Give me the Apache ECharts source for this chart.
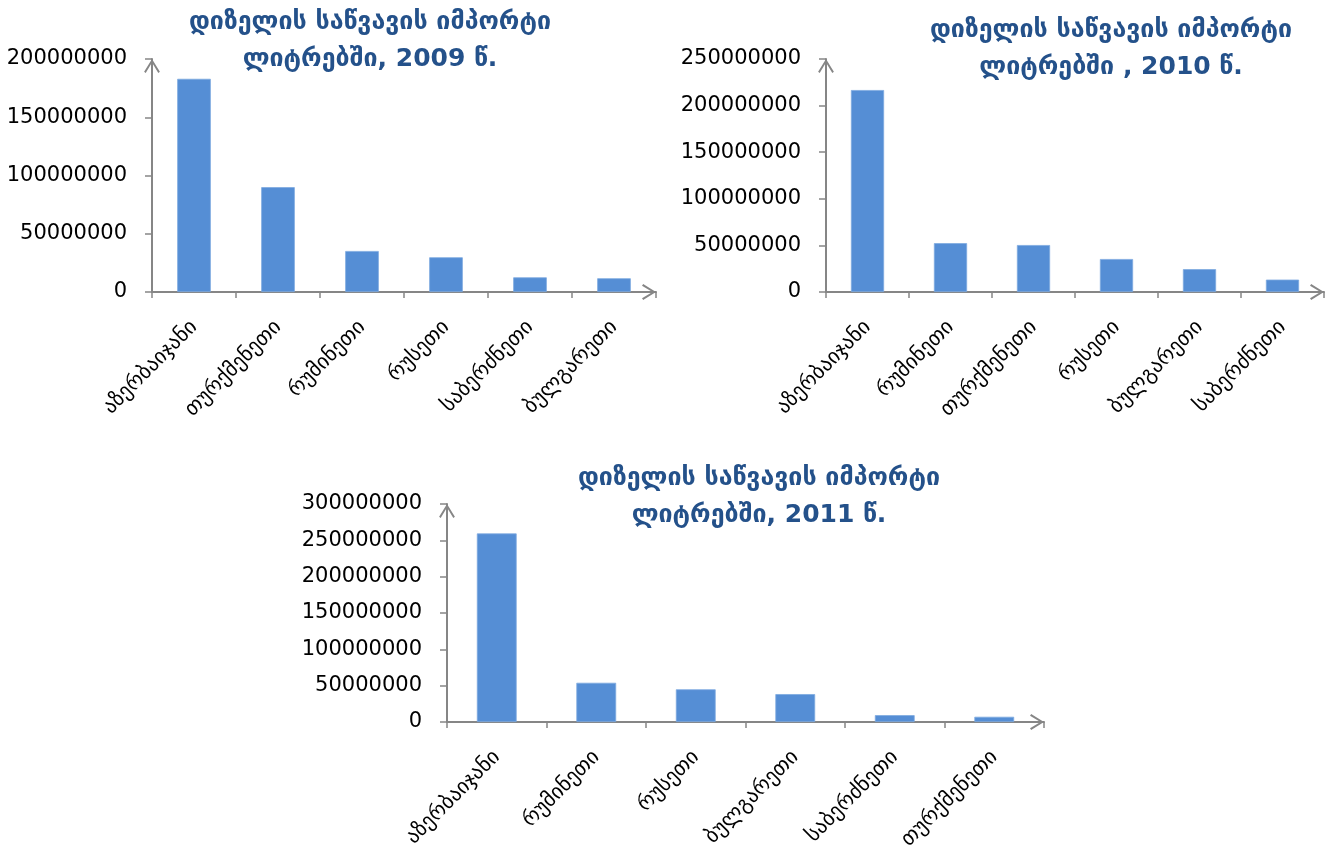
<!DOCTYPE html>
<html><head><meta charset="utf-8">
<script src="https://cdn.jsdelivr.net/npm/echarts@6/dist/echarts.min.js"></script>
<style>html,body{margin:0;padding:0;background:#fff}#c{width:1339px;height:855px}</style>
</head><body><div id="c"></div>
<script>
const titles = ['დიზელის საწვავის იმპორტი\nლიტრებში, 2009 წ.', 'დიზელის საწვავის იმპორტი\nლიტრებში , 2010 წ.', 'დიზელის საწვავის იმპორტი\nლიტრებში, 2011 წ.'];
const cats2009 = ['აზერბაიჯანი', 'თურქმენეთი', 'რუმინეთი', 'რუსეთი', 'საბერძნეთი', 'ბულგარეთი'];
const vals2009 = [183000000, 90000000, 35200000, 29800000, 12600000, 11800000];
const cats2010 = ['აზერბაიჯანი', 'რუმინეთი', 'თურქმენეთი', 'რუსეთი', 'ბულგარეთი', 'საბერძნეთი'];
const vals2010 = [216700000, 52400000, 50400000, 35400000, 24500000, 13300000];
const cats2011 = ['აზერბაიჯანი', 'რუმინეთი', 'რუსეთი', 'ბულგარეთი', 'საბერძნეთი', 'თურქმენეთი'];
const vals2011 = [259500000, 54000000, 45000000, 38400000, 9400000, 7200000];
const yMax = [200000000, 250000000, 300000000];
const yInterval = 50000000;

const FONT = '"DejaVu Sans", sans-serif';
const AX = '#868686';
const BAR = '#558ED5';
const ARROW = 'path://M0,13 L8,0 L16,13 L14.4,14.2 L8,3.6 L1.6,14.2 Z';

const grids = [
  {left: 152, top: 59, width: 504, height: 233},
  {left: 826, top: 59, width: 498, height: 233},
  {left: 447, top: 504, width: 597, height: 218}
];
const titlePos = [{x: 365, y: -1}, {x: 1106, y: 7}, {x: 754, y: 455}];
const catsAll = [cats2009, cats2010, cats2011];
const valsAll = [vals2009, vals2010, vals2011];

const axisLine = {show: true, symbol: ['none', ARROW], symbolSize: [16, 14], symbolOffset: [0, -7], lineStyle: {color: AX, width: 2}};

const option = {
  animation: false,
  backgroundColor: '#fff',
  title: titles.map((t, i) => ({
    text: t, left: titlePos[i].x, top: titlePos[i].y, textAlign: 'center',
    textStyle: {fontFamily: FONT, fontWeight: 'bold', fontSize: 25, color: '#24518A', lineHeight: 37}
  })),
  grid: grids.map(g => Object.assign({containLabel: false}, g)),
  xAxis: catsAll.map((c, i) => ({
    type: 'category', gridIndex: i, data: c,
    axisLine: axisLine,
    axisTick: {show: true, length: 6, lineStyle: {color: AX, width: 1.5}},
    axisLabel: {rotate: 45, margin: 32, fontFamily: FONT, fontSize: 21, color: '#000', interval: 0},
    splitLine: {show: false}
  })),
  yAxis: yMax.map((m, i) => ({
    type: 'value', gridIndex: i, min: 0, max: m, interval: yInterval,
    axisLine: axisLine,
    axisTick: {show: true, length: 7, lineStyle: {color: AX, width: 1.5}},
    axisLabel: {margin: 25, fontFamily: FONT, fontSize: 21, color: '#000', formatter: v => String(v)},
    splitLine: {show: false}
  })),
  series: valsAll.map((v, i) => ({
    type: 'bar', xAxisIndex: i, yAxisIndex: i, data: v, barWidth: '40%',
    itemStyle: {color: BAR, borderColor: '#7EA9E0', borderWidth: 0.8}
  }))
};
const chart = echarts.init(document.getElementById('c'), null, {renderer: 'canvas'});
chart.setOption(option);
</script></body></html>
